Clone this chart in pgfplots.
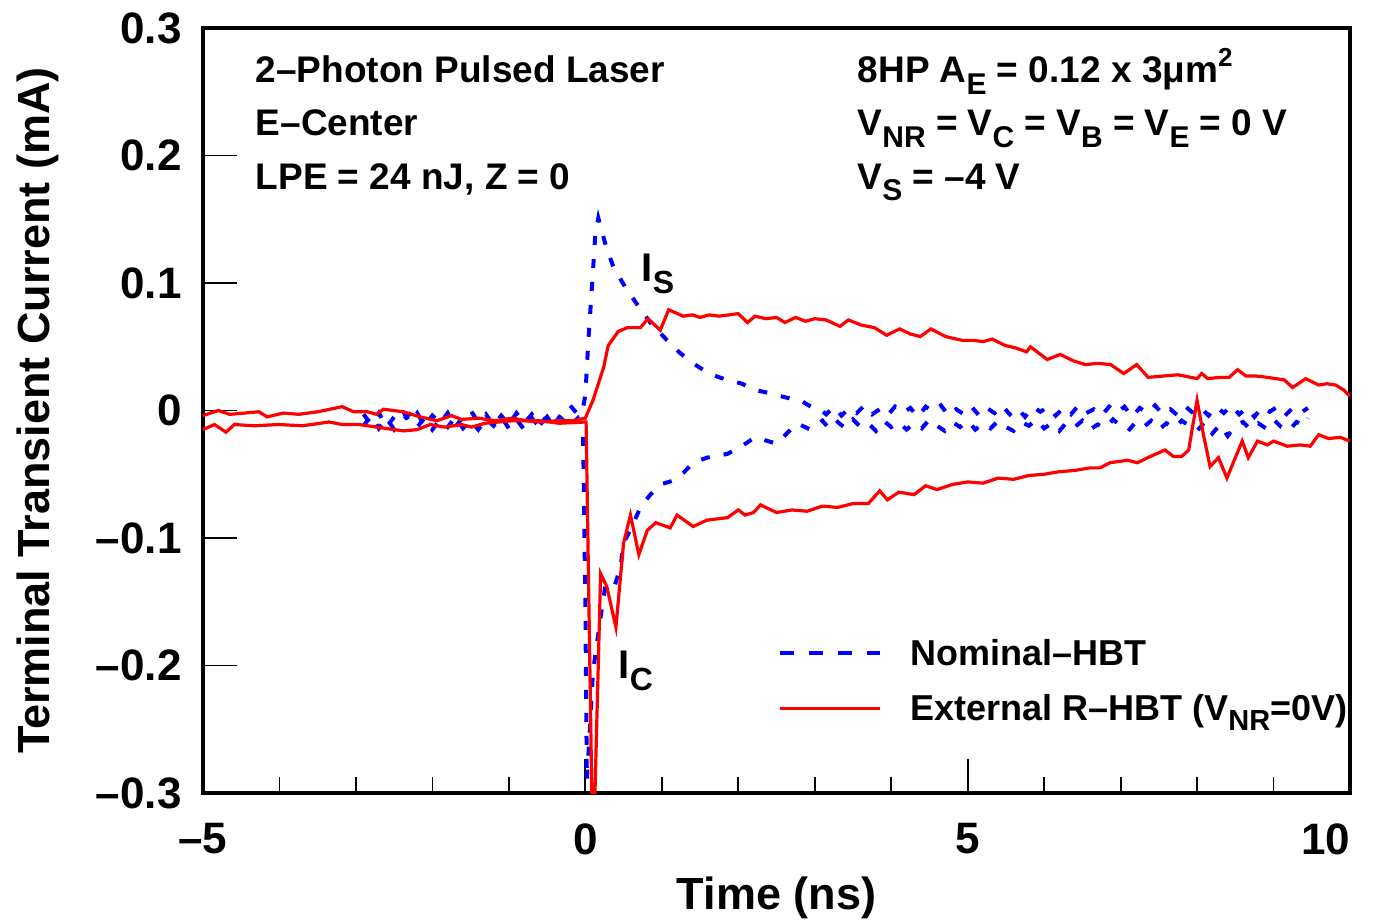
\documentclass[border=0pt]{standalone}
\usepackage{fontspec}
\setmainfont{Liberation Sans}
\usepackage{pgfplots}
\pgfplotsset{compat=1.18}
\usetikzlibrary{calc}
\newcommand\sub[2][15pt]{\raisebox{-0.3em}{\fontsize{#1}{#1}\selectfont #2}}
\newcommand\super[1]{\raisebox{0.45em}{\fontsize{13}{13}\selectfont #1}}
\newcommand\ann{\bfseries\fontsize{18.5}{18.5}\selectfont}

\pgfplotstableread{
t I
-2.9 -0.003
-2.8 -0.011
-2.7 -0.002
-2.6 -0.013
-2.5 -0.005
-2.4 0.001
-2.3 -0.009
-2.2 -0.002
-2.1 -0.012
-2.0 -0.004
-1.9 -0.010
-1.8 -0.002
-1.7 -0.013
-1.6 -0.005
-1.5 0.000
-1.4 -0.009
-1.3 -0.003
-1.2 -0.012
-1.1 -0.004
-1.0 -0.011
-0.9 -0.002
-0.8 -0.010
-0.7 -0.003
-0.6 -0.012
-0.5 -0.004
-0.4 -0.010
-0.3 -0.002
-0.2 0.004
-0.1 -0.003
-0.04 -0.001
0.0 0.012
0.04 0.055
0.09 0.100
0.13 0.138
0.17 0.151
0.26 0.131
0.37 0.112
0.52 0.097
0.68 0.083
0.85 0.069
1.07 0.055
1.24 0.045
1.41 0.037
1.59 0.030
1.75 0.026
1.86 0.024
2.05 0.021
2.22 0.016
2.38 0.014
2.5 0.012
2.64 0.010
2.84 0.007
2.95 0.003
3.05 0.002
3.15 -0.003
3.25 0.003
3.35 -0.004
3.45 0.002
3.55 -0.002
3.65 0.004
3.75 -0.003
3.85 0.001
3.95 -0.004
4.05 0.003
4.15 -0.002
4.25 0.002
4.35 -0.005
4.45 0.003
4.55 -0.001
4.65 0.004
4.75 -0.004
4.85 0.001
4.95 -0.003
5.05 0.003
5.15 -0.004
5.25 0.002
5.35 -0.002
5.45 0.004
5.55 -0.003
5.65 0.002
5.75 -0.005
5.85 0.003
5.95 -0.001
6.05 0.003
6.15 -0.004
6.25 0.002
6.35 -0.003
6.45 0.004
6.55 -0.002
6.65 0.001
6.75 -0.004
6.85 0.003
6.95 -0.002
7.05 0.003
7.15 -0.005
7.25 0.002
7.35 -0.002
7.45 0.004
7.55 -0.003
7.65 0.001
7.75 -0.004
7.85 0.003
7.95 -0.002
8.05 0.002
8.15 -0.004
8.25 0.003
8.35 -0.002
8.45 0.004
8.55 -0.003
8.65 0.002
8.75 -0.005
8.85 0.003
8.95 -0.001
9.05 0.003
9.15 -0.004
9.25 0.002
9.35 -0.002
9.45 0.002
}\blueS

\pgfplotstableread{
t I
-2.9 -0.012
-2.8 -0.004
-2.7 -0.014
-2.6 -0.006
-2.5 -0.015
-2.4 -0.008
-2.3 -0.003
-2.2 -0.013
-2.1 -0.006
-2.0 -0.015
-1.9 -0.007
-1.8 -0.013
-1.7 -0.005
-1.6 -0.014
-1.5 -0.008
-1.4 -0.015
-1.3 -0.006
-1.2 -0.012
-1.1 -0.005
-1.0 -0.014
-0.9 -0.007
-0.8 -0.015
-0.7 -0.006
-0.6 -0.013
-0.5 -0.005
-0.4 -0.014
-0.3 -0.007
-0.2 -0.012
-0.1 -0.006
-0.03 -0.016
0.0 -0.15
0.02 -0.29
0.05 -0.26
0.10 -0.205
0.2 -0.162
0.26 -0.138
0.37 -0.140
0.46 -0.123
0.5 -0.104
0.61 -0.091
0.72 -0.076
0.85 -0.066
0.98 -0.058
1.15 -0.055
1.28 -0.049
1.41 -0.041
1.59 -0.037
1.86 -0.034
2.07 -0.027
2.22 -0.021
2.5 -0.026
2.77 -0.010
2.94 -0.015
3.0 -0.013
3.1 -0.008
3.2 -0.015
3.3 -0.009
3.4 -0.014
3.5 -0.007
3.6 -0.013
3.7 -0.010
3.8 -0.016
3.9 -0.008
4.0 -0.013
4.1 -0.009
4.2 -0.015
4.3 -0.010
4.4 -0.014
4.5 -0.007
4.6 -0.012
4.7 -0.016
4.8 -0.009
4.9 -0.013
5.0 -0.008
5.1 -0.015
5.2 -0.010
5.3 -0.014
5.4 -0.008
5.5 -0.013
5.6 -0.016
5.7 -0.009
5.8 -0.012
5.9 -0.007
6.0 -0.014
6.1 -0.010
6.2 -0.016
6.3 -0.009
6.4 -0.013
6.5 -0.008
6.6 -0.015
6.7 -0.011
6.8 -0.014
6.9 -0.007
7.0 -0.012
7.1 -0.016
7.2 -0.009
7.3 -0.013
7.4 -0.008
7.5 -0.015
7.6 -0.010
7.7 -0.014
7.8 -0.008
7.9 -0.012
8.0 -0.016
8.1 -0.009
8.2 -0.018
8.3 -0.011
8.4 -0.020
8.5 -0.012
8.6 -0.009
8.7 -0.015
8.8 -0.010
8.9 -0.014
9.0 -0.007
9.1 -0.013
9.2 -0.016
9.3 -0.009
9.4 -0.012
9.45 -0.006
}\blueC

\pgfplotstableread{
t I
-5.0 -0.004
-4.8 0.000
-4.65 -0.003
-4.45 -0.002
-4.27 -0.001
-4.16 -0.005
-3.95 -0.002
-3.75 -0.003
-3.5 -0.001
-3.18 0.003
-3.03 -0.001
-2.85 -0.001
-2.73 -0.003
-2.64 0.001
-2.38 -0.001
-2.16 -0.005
-1.94 -0.008
-1.75 -0.004
-1.62 -0.007
-1.4 -0.006
-1.18 -0.008
-0.95 -0.006
-0.78 -0.008
-0.6 -0.009
-0.34 -0.008
-0.16 -0.008
0.0 -0.006
0.1 0.008
0.24 0.034
0.30 0.051
0.43 0.062
0.55 0.065
0.72 0.065
0.82 0.072
0.98 0.063
1.09 0.079
1.28 0.074
1.40 0.075
1.5 0.073
1.62 0.075
1.75 0.074
1.88 0.075
2.0 0.076
2.12 0.069
2.22 0.074
2.36 0.072
2.5 0.073
2.61 0.069
2.75 0.073
2.88 0.070
3.0 0.072
3.15 0.071
3.33 0.066
3.44 0.071
3.61 0.067
3.78 0.065
3.94 0.059
4.11 0.064
4.25 0.060
4.38 0.058
4.52 0.064
4.71 0.058
4.93 0.055
5.08 0.055
5.2 0.054
5.32 0.056
5.49 0.051
5.63 0.049
5.77 0.046
5.82 0.050
6.04 0.040
6.21 0.044
6.38 0.039
6.54 0.036
6.70 0.037
6.87 0.036
7.04 0.029
7.21 0.036
7.36 0.026
7.55 0.027
7.75 0.028
8.0 0.025
8.06 0.029
8.14 0.025
8.30 0.026
8.42 0.026
8.53 0.032
8.64 0.027
8.78 0.027
8.92 0.026
9.14 0.024
9.25 0.018
9.42 0.025
9.59 0.020
9.70 0.021
9.81 0.020
9.92 0.016
10.0 0.011
}\redS

\pgfplotstableread{
t I
-5.0 -0.015
-4.85 -0.011
-4.70 -0.017
-4.59 -0.011
-4.33 -0.012
-4.01 -0.011
-3.70 -0.012
-3.35 -0.009
-3.18 -0.011
-2.96 -0.011
-2.73 -0.013
-2.38 -0.016
-2.2 -0.015
-2.03 -0.011
-1.84 -0.013
-1.62 -0.011
-1.49 -0.013
-1.31 -0.010
-0.95 -0.008
-0.6 -0.008
-0.34 -0.010
0.01 -0.009
0.1 -0.36
0.2 -0.128
0.28 -0.138
0.40 -0.170
0.50 -0.104
0.59 -0.082
0.70 -0.113
0.81 -0.094
0.92 -0.088
1.11 -0.092
1.20 -0.082
1.41 -0.091
1.59 -0.086
1.86 -0.084
2.00 -0.078
2.09 -0.082
2.20 -0.080
2.29 -0.074
2.5 -0.080
2.7 -0.078
2.9 -0.079
3.1 -0.075
3.3 -0.076
3.5 -0.073
3.7 -0.073
3.85 -0.063
3.95 -0.070
4.1 -0.064
4.3 -0.066
4.45 -0.059
4.6 -0.062
4.8 -0.058
5.0 -0.056
5.2 -0.057
5.4 -0.053
5.6 -0.054
5.8 -0.051
6.0 -0.050
6.2 -0.048
6.4 -0.047
6.6 -0.045
6.73 -0.045
6.86 -0.041
7.09 -0.039
7.22 -0.041
7.39 -0.036
7.58 -0.031
7.69 -0.036
7.80 -0.036
7.89 -0.031
8.00 0.008
8.08 -0.018
8.17 -0.044
8.28 -0.037
8.39 -0.053
8.59 -0.024
8.67 -0.037
8.79 -0.024
8.92 -0.027
9.0 -0.024
9.18 -0.028
9.35 -0.027
9.48 -0.028
9.59 -0.019
9.72 -0.022
9.87 -0.021
10.0 -0.024
}\redC

\begin{document}
\begin{tikzpicture}[font=\bfseries]
\begin{axis}[name=ax, scale only axis, width=573.5pt, height=382.5pt,
  xmin=-5, xmax=10, ymin=-0.3, ymax=0.3,
  axis line style={line width=1.6pt},
  xtick={-5,0,5,10}, xticklabels={–5,0,5,\makebox[0pt][r]{10}},
  minor xtick={-4,-3,-2,-1,1,2,3,4,6,7,8,9},
  ytick={-0.3,-0.2,-0.1,0,0.1,0.2,0.3},
  yticklabels={–0.3,–0.2,–0.1,0,0.1,0.2,0.3},
  tick pos=left, tick align=inside,
  major tick length=17pt, minor tick length=8pt,
  every tick/.style={black, line width=0.9pt},
  xticklabel style={font=\bfseries\fontsize{22}{22}\selectfont, inner sep=0pt, anchor=north, yshift=-15pt},
  yticklabel style={font=\bfseries\fontsize{22}{22}\selectfont, inner sep=0pt, anchor=east, xshift=-10.5pt},
  xlabel={Time (ns)}, ylabel={Terminal Transient Current (mA)},
  xlabel style={font=\bfseries\fontsize{22.5}{22.5}\selectfont, at={(axis description cs:0.5,-0.137)}, anchor=center},
  ylabel style={font=\bfseries\fontsize{22.5}{22.5}\selectfont, at={(axis description cs:-0.1439,0.5)}, anchor=center},
  legend style={draw=none, fill=none, at={(axis description cs:0.5013,0.1464)}, anchor=west,
    inner sep=0pt, font=\bfseries\fontsize{18}{18}\selectfont, column sep=12pt, row sep=9pt},
  legend cell align=left,
  legend image code/.code={\draw[#1] (0pt,0pt) -- (50pt,0pt);},
]
\addlegendimage{blue, line width=2pt, dash pattern=on 7pt off 7.5pt}
\addlegendentry{Nominal–HBT}
\addlegendimage{red, line width=1.6pt}
\addlegendentry{External R–HBT (V\sub[14.5pt]{NR}=0V)}

\addplot[forget plot, blue, line width=2pt, dash pattern=on 4.5pt off 7pt] table[x=t,y=I] {\blueS};
\addplot[forget plot, blue, line width=2pt, dash pattern=on 4.5pt off 7pt] table[x=t,y=I] {\blueC};
\addplot[forget plot, red, line width=1.6pt] table[x=t,y=I] {\redS};
\addplot[forget plot, red, line width=1.6pt] table[x=t,y=I] {\redC};

\node[anchor=base west, inner sep=0pt, font=\ann] at (axis cs:-4.315,0.2569) {2–Photon Pulsed Laser};
\node[anchor=base west, inner sep=0pt, font=\ann] at (axis cs:-4.315,0.2153) {E–Center};
\node[anchor=base west, inner sep=0pt, font=\ann] at (axis cs:-4.315,0.1737) {LPE = 24 nJ, Z = 0};
\node[anchor=base west, inner sep=0pt, font=\ann] at (axis cs:3.557,0.2569) {8HP A\sub{E} = 0.12 x 3μm\super{2}};
\node[anchor=base west, inner sep=0pt, font=\ann] at (axis cs:3.557,0.2153) {V\sub{NR} = V\sub{C} = V\sub{B} = V\sub{E} = 0 V};
\node[anchor=base west, inner sep=0pt, font=\ann] at (axis cs:3.557,0.1737) {V\sub{S} = –4 V};
\node[anchor=base west, inner sep=0pt, font=\bfseries\fontsize{20}{20}\selectfont] at (axis cs:0.732,0.1008) {I\sub[16pt]{S}};
\node[anchor=base west, inner sep=0pt, font=\bfseries\fontsize{20}{20}\selectfont] at (axis cs:0.432,-0.2098) {I\sub[16pt]{C}};
\end{axis}
\pgfresetboundingbox
\path ([shift={(-101.5pt,-64.5pt)}]ax.south west) rectangle ([shift={(20.5pt,14pt)}]ax.north east);
\end{tikzpicture}
\end{document}
